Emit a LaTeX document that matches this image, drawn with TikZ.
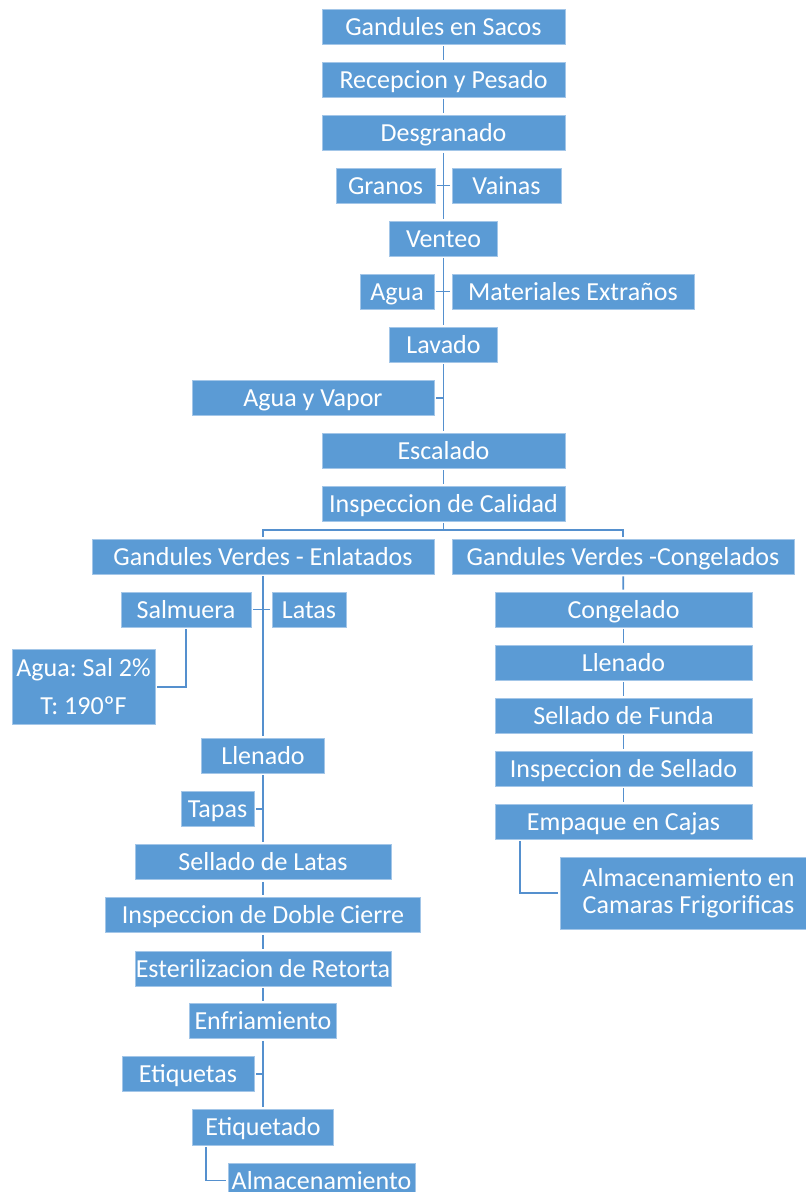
\documentclass[tikz,border=0pt]{standalone}
\usepackage{fontspec}
\setmainfont{Carlito}
\frenchspacing
\definecolor{boxblue}{HTML}{5B9BD5}
\definecolor{boxedge}{HTML}{A3C6E8}
\definecolor{linkblue}{HTML}{5590CE}
\begin{document}
\begin{tikzpicture}[x=1pt,y=-1pt,
  box/.style={rectangle, fill=boxblue, draw=boxedge, line width=0.8pt, text=white,
    inner sep=0pt, minimum height=35pt, text height=22pt, text depth=5pt,
    font=\fontsize{26}{31}\selectfont, align=center},
  multibox/.style={box, text height=, text depth=},
  link/.style={draw=linkblue, line width=1.8pt, shorten <=2pt, shorten >=2pt}]
\useasboundingbox (0,0) rectangle (806,1192);
\fill[white] (0,0) rectangle (806,1192);
% main column
\node[box, minimum width=243pt] (s1) at (443.5,26.5) {Gandules en Sacos};
\node[box, minimum width=243pt] (s2) at (443.5,79.5) {Recepcion y Pesado};
\node[box, minimum width=243pt] (s3) at (443.5,133) {Desgranado};
\node[box, minimum width=99pt] (granos) at (385.5,185.5) {Granos};
\node[box, minimum width=109pt] (vainas) at (506.5,185.5) {Vainas};
\node[box, minimum width=108pt] (venteo) at (443.5,238.5) {Venteo};
\node[box, minimum width=74pt] (agua) at (397,291.5) {Agua};
\node[box, minimum width=242pt] (mat) at (573,291.5) {Materiales Extraños};
\node[box, minimum width=108pt] (lavado) at (443.5,344.5) {Lavado};
\node[box, minimum width=242pt] (agv) at (313,398) {Agua y Vapor};
\node[box, minimum width=243pt] (esc) at (443.5,450.5) {Escalado};
\node[box, minimum width=243pt] (cal) at (443.5,503.5) {Inspeccion de Calidad};
% left branch
\node[box, minimum width=342pt] (enl) at (263,556.5) {Gandules Verdes - Enlatados};
\node[box, minimum width=130pt] (salm) at (186,609.5) {Salmuera};
\node[box, minimum width=74pt] (latas) at (309,609.5) {Latas};
\node[multibox, minimum width=143pt, minimum height=75pt] (aguasal) at (83.5,687) {Agua: Sal 2\%\\[7pt]T: 190ºF};
\node[box, minimum width=123pt] (llenL) at (263,755.5) {Llenado};
\node[box, minimum width=73pt] (tapas) at (217.5,809) {Tapas};
\node[box, minimum width=256pt] (sellL) at (263,862) {Sellado de Latas};
\node[box, minimum width=315pt] (insp) at (263,915) {Inspeccion de Doble Cierre};
\node[box, minimum width=256pt] (est) at (263,968.5) {Esterilizacion de Retorta};
\node[box, minimum width=147pt] (enf) at (263,1021) {Enfriamiento};
\node[box, minimum width=132pt] (etiqs) at (188,1074) {Etiquetas};
\node[box, minimum width=141pt, minimum height=36pt] (etiq) at (263,1127) {Etiquetado};
\node[box, minimum width=187pt] (alm) at (321.5,1180.5) {Almacenamiento};
% right branch
\node[box, minimum width=342pt] (cong) at (623,556.5) {Gandules Verdes -Congelados};
\node[box, minimum width=257pt] (congd) at (623.5,609.5) {Congelado};
\node[box, minimum width=257pt] (llenR) at (623.5,662.5) {Llenado};
\node[box, minimum width=257pt] (sellF) at (623.5,715.5) {Sellado de Funda};
\node[box, minimum width=257pt] (inspS) at (623.5,768.5) {Inspeccion de Sellado};
\node[box, minimum width=257pt] (emp) at (623.5,821.5) {Empaque en Cajas};
\node[multibox, minimum width=257pt, minimum height=72pt, font=\fontsize{26}{27}\selectfont] (almf) at (688.5,893) {Almacenamiento en\\Camaras Frigorificas};
% connectors, main column
\draw[link] (s1) -- (s2);
\draw[link] (s2) -- (s3);
\draw[link] (s3) -- (venteo);
\draw[link] (granos) -- (vainas);
\draw[link] (venteo) -- (lavado);
\draw[link] (agua) -- (mat);
\draw[link] (lavado) -- (esc);
\draw[link, shorten >=0pt] (agv.east) -- (agv.east -| lavado.south);
\draw[link] (esc) -- (cal);
\coordinate (br) at (443.5,530);
\draw[link, shorten >=0pt] (cal.south) -- (br);
\draw[link] (enl.north) |- (br) -| (cong.north);
% left branch connectors
\draw[link] (enl) -- (llenL);
\draw[link] (salm) -- (latas);
\draw[link] (salm.south) |- (aguasal.east);
\draw[link] (llenL) -- (sellL);
\draw[link, shorten >=0pt] (tapas.east) -- (tapas.east -| sellL.north);
\draw[link] (sellL) -- (insp);
\draw[link] (insp) -- (est);
\draw[link] (est) -- (enf);
\draw[link] (enf) -- (etiq);
\draw[link, shorten >=0pt] (etiqs.east) -- (etiqs.east -| etiq.north);
\draw[link] ([xshift=14pt]etiq.south west) |- (alm.west);
% right branch connectors
\draw[link] (cong) -- (congd);
\draw[link] (congd) -- (llenR);
\draw[link] (llenR) -- (sellF);
\draw[link] (sellF) -- (inspS);
\draw[link] (inspS) -- (emp);
\draw[link] ([xshift=25pt]emp.south west) |- (almf.west);
\end{tikzpicture}
\end{document}
